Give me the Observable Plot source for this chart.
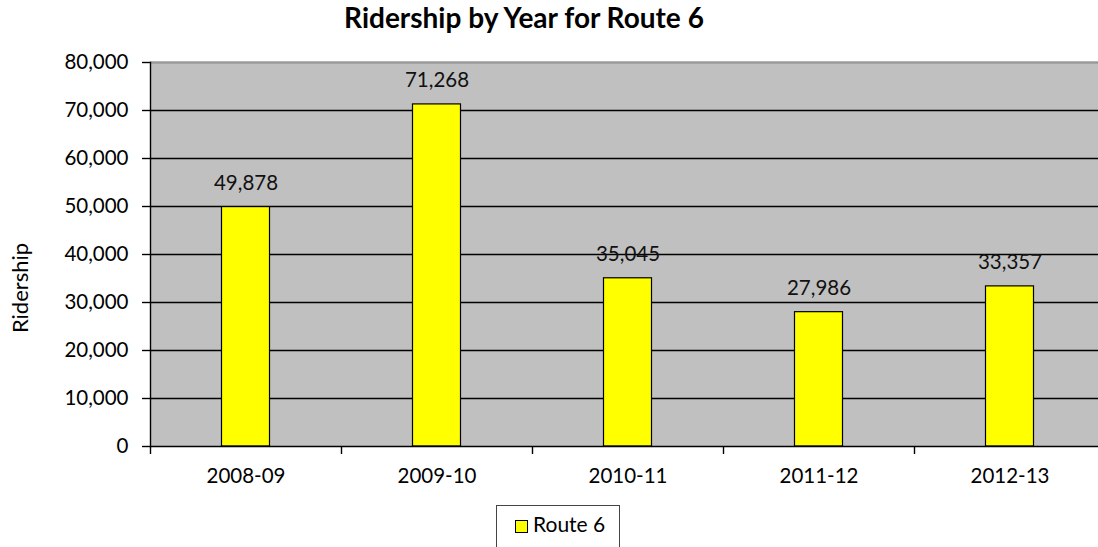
<!DOCTYPE html>
<html>
<head>
<meta charset="utf-8">
<script src="https://cdn.jsdelivr.net/npm/d3@7"></script>
<script src="https://cdn.jsdelivr.net/npm/@observablehq/plot@0.6"></script>
<style>
  html, body { margin: 0; padding: 0; background: #fff; overflow: hidden; width: 1098px; height: 547px; }
  #wrap { position: relative; width: 1098px; height: 547px; font-family: Lato, "Open Sans", sans-serif; color: #000; overflow: hidden; }
  #title { position: absolute; left: 0; width: 1048px; top: 0px; text-align: center; font-weight: bold; font-size: 28px; }
  #ylab { position: absolute; left: 19px; top: 288px; transform: translate(-50%, -50%) rotate(-90deg); font-size: 22px; white-space: nowrap; }
  #legend { position: absolute; left: 496px; top: 505px; width: 124px; height: 50px; border: 1.5px solid #444; box-sizing: border-box; font-size: 21px; }
  #legend .sw { position: absolute; left: 18px; top: 14px; width: 11px; height: 11px; background: #ffff00; border: 1.3px solid #000; }
  #legend .lt { position: absolute; left: 36px; top: 5px; }
  #chart { position: absolute; left: 0; top: 0; }
  #chart svg { max-width: none !important; }
</style>
</head>
<body>
<div id="wrap">
  <div id="chart"></div>
  <div id="title"></div>
  <div id="ylab"></div>
  <div id="legend"><div class="sw"></div><div class="lt"></div></div>
</div>
<script>
const categories = ["2008-09", "2009-10", "2010-11", "2011-12", "2012-13"];
const ridership = [49878, 71268, 35045, 27986, 33357];
const yTicks = [0, 10000, 20000, 30000, 40000, 50000, 60000, 70000, 80000];
const seriesName = "Route 6";
const titleText = "Ridership by Year for Route 6";
const yAxisLabel = "Ridership";

const data = categories.map((c, i) => ({year: c, value: ridership[i]}));
const fmt = d3.format(",");

const W = 1110, mL = 150, mR = 5;
const step = (W - mL - mR) / categories.length;

const chart = Plot.plot({
  width: W,
  height: 547,
  marginTop: 62,
  marginBottom: 101,
  marginLeft: mL,
  marginRight: mR,
  style: {fontFamily: "Lato, 'Open Sans', sans-serif", fontSize: "20px", color: "#000", background: "transparent", overflow: "visible", maxWidth: "none"},
  x: {domain: categories, padding: 0, axis: null},
  y: {domain: [0, 80000], axis: null},
  marks: [
    Plot.frame({fill: "#c0c0c0", stroke: null}),
    Plot.ruleY(yTicks.filter(t => t > 0 && t < 80000), {stroke: "#000", strokeWidth: 1.4}),
    Plot.ruleY([80000], {stroke: "#9a9a9a", strokeWidth: 2.5}),
    Plot.barY(data, {x: "year", y: "value", fill: "#ffff00", stroke: "#000", strokeWidth: 1.2, insetLeft: 71.5, insetRight: 71.5}),
    Plot.ruleY([0], {stroke: "#000", strokeWidth: 1.4}),
    Plot.frame({anchor: "left", stroke: "#000", strokeWidth: 1.4}),
    Plot.axisY({ticks: yTicks, tickSize: 8, tickPadding: 14, tickFormat: fmt, label: null, fontSize: 20.5, stroke: "#000", strokeWidth: 1.4}),
    Plot.axisX({tickSize: 8, dx: -step / 2, tickFormat: () => "", label: null, stroke: "#000", strokeWidth: 1.4}),
    Plot.axisX({tickSize: 0, tickPadding: 22, label: null, fontSize: 20.5}),
    Plot.text(data, {x: "year", y: "value", text: d => fmt(d.value), dy: -24, fontSize: 20.5, fill: "#111"})
  ]
});
document.getElementById("chart").appendChild(chart);
document.getElementById("title").textContent = titleText;
document.getElementById("ylab").textContent = yAxisLabel;
document.querySelector("#legend .lt").textContent = seriesName;
</script>
</body>
</html>
